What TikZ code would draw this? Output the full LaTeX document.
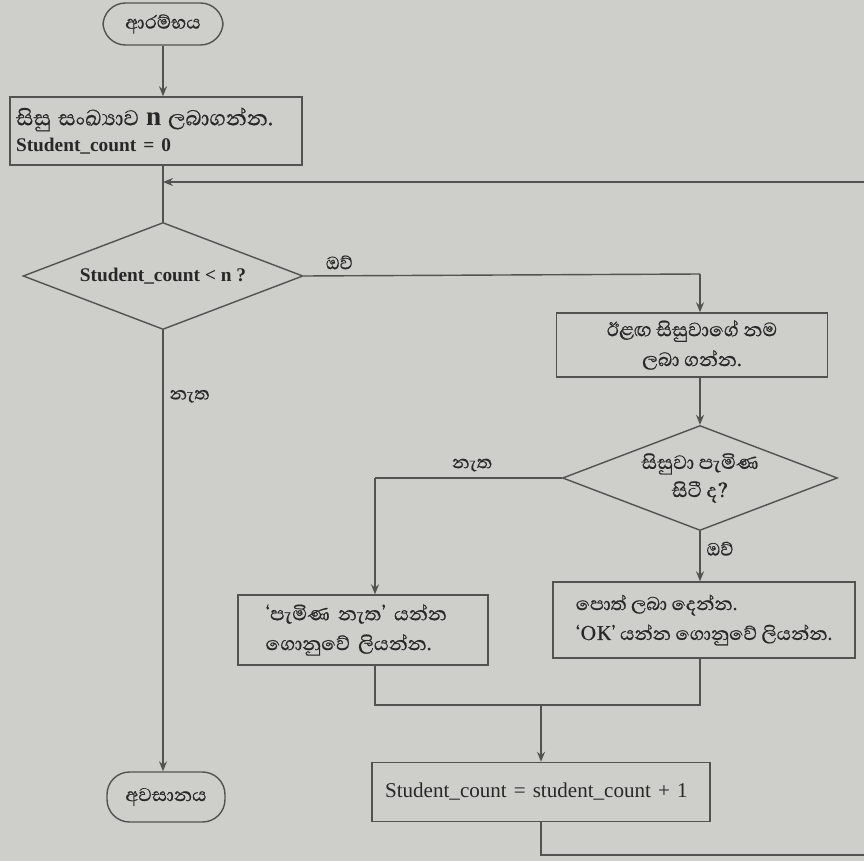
\documentclass[tikz,border=0pt]{standalone}
\usepackage{fontspec}
\setmainfont{Liberation Serif}
\newfontfamily\sinhala[Script=Sinhala, FakeBold=0.6]{Abhaya Libre}
\usetikzlibrary{arrows.meta, shapes.geometric}
\definecolor{paper}{RGB}{206,206,202}
\definecolor{ink}{RGB}{82,82,80}
\definecolor{txt}{RGB}{40,40,40}

\begin{document}
\begin{tikzpicture}[
  x=0.02cm, y=-0.02cm, text=txt,
  term/.style={draw=ink, line width=0.8pt, rounded corners=0.45cm, inner sep=0pt,
               font=\sinhala\fontsize{13.5}{15}\selectfont},
  block/.style={draw=ink, line width=0.8pt, inner sep=0pt, font=\fontsize{12}{16}\selectfont},
  test/.style={draw=ink, line width=0.8pt, diamond, shape aspect=2.6, inner sep=0pt},
  wire/.style={draw=ink, line width=0.8pt},
  arr/.style={wire, -{Stealth[length=2mm, width=1.6mm]}},
  lbl/.style={font=\sinhala\fontsize{13}{15}\selectfont}
]
  \useasboundingbox (0,0) rectangle (864,861);
  \fill[paper] (0,0) rectangle (864,861);
  \clip (0,0) rectangle (864,861);

  % Nodes
  \node[term, minimum width=2.4cm, minimum height=0.84cm] (start) at (163,24) {ආරම්භය};
  \node[block, minimum width=5.84cm, minimum height=1.36cm, text width=5.6cm, align=left] (input) at (156,131)
    {{\sinhala\fontsize{15.5}{16}\selectfont සිසු සංඛ්^^^^200dයාව {\rmfamily\bfseries n} ලබාගන්න.}\\[-1pt]
     {\bfseries\fontsize{11}{14}\selectfont Student\_count = 0}};
  \node[test, minimum width=5.6cm, minimum height=2.14cm, font=\bfseries\fontsize{11}{13}\selectfont] (dec1) at (163,276)
    {Student\_count < n ?};
  \node[block, minimum width=5.42cm, minimum height=1.28cm, align=center, font=\sinhala\fontsize{14}{17}\selectfont] (next) at (692,345)
    {ඊළඟ සිසුවාගේ නම\\ ලබා ගන්න.};
  \node[test, minimum width=5.5cm, minimum height=2.1cm, align=center, font=\sinhala\fontsize{14}{16}\selectfont] (dec2) at (700,478)
    {සිසුවා පැමිණ\\ සිටී ද?};
  \node[block, minimum width=5cm, minimum height=1.4cm, text width=3.9cm, align=left, font=\sinhala\fontsize{14}{17}\selectfont] (absent) at (363,630)
    {‘පැමිණ නැත’ යන්න\\ ගොනුවේ ලියන්න.};
  \node[block, minimum width=6.04cm, minimum height=1.52cm, align=left, font=\sinhala\fontsize{13.5}{17}\selectfont] (present) at (704,620)
    {පොත් ලබා දෙන්න.\\ ‘OK’ යන්න ගොනුවේ ලියන්න.};
  \node[block, minimum width=6.76cm, minimum height=1.18cm, text width=6.24cm, align=left] (inc) at (541,792)
    {Student\_count = student\_count + 1};
  \node[term, minimum width=2.36cm, minimum height=1.0cm] (stop) at (166,797) {අවසානය};

  % Bends
  \coordinate (back) at (163,182);
  \coordinate (yesturn) at (700,274);
  \coordinate (noturn) at (375,478);
  \coordinate (joinL) at (375,705);
  \coordinate (joinR) at (700,705);
  \coordinate (loopA) at (541,855);
  \coordinate (loopB) at (885,855);
  \coordinate (loopC) at (885,182);

  % Arrows
  \draw[arr] (start) -- (start |- input.north);
  \draw[wire] (start |- input.south) -- (dec1.north);
  \draw[wire] (dec1.east) -- node[lbl, above, pos=0.09] (yes1) {ඔව්} (yesturn);
  \draw[arr] (yesturn) -- (yesturn |- next.north);
  \draw[arr] (yesturn |- next.south) -- (dec2.north);
  \draw[wire] (dec2.west) -- node[lbl, above, pos=0.48] (no2) {නැත} (noturn);
  \draw[arr] (noturn) -- (noturn |- absent.north);
  \draw[arr] (dec2.south) -- node[lbl, right, pos=0.35] (yes2) {ඔව්} (dec2.south |- present.north);
  \draw[arr] (dec1.south) -- node[lbl, right, pos=0.15] (no1) {නැත} (dec1.south |- stop.north);
  \draw[wire] (noturn |- absent.south) -- (joinL) -- (joinR) -- (yesturn |- present.south);
  \draw[arr] (inc.north |- joinL) -- (inc.north);
  \draw[arr] (inc.south) -- (loopA) -- (loopB) -- (loopC) -- (back);
\end{tikzpicture}
\end{document}
